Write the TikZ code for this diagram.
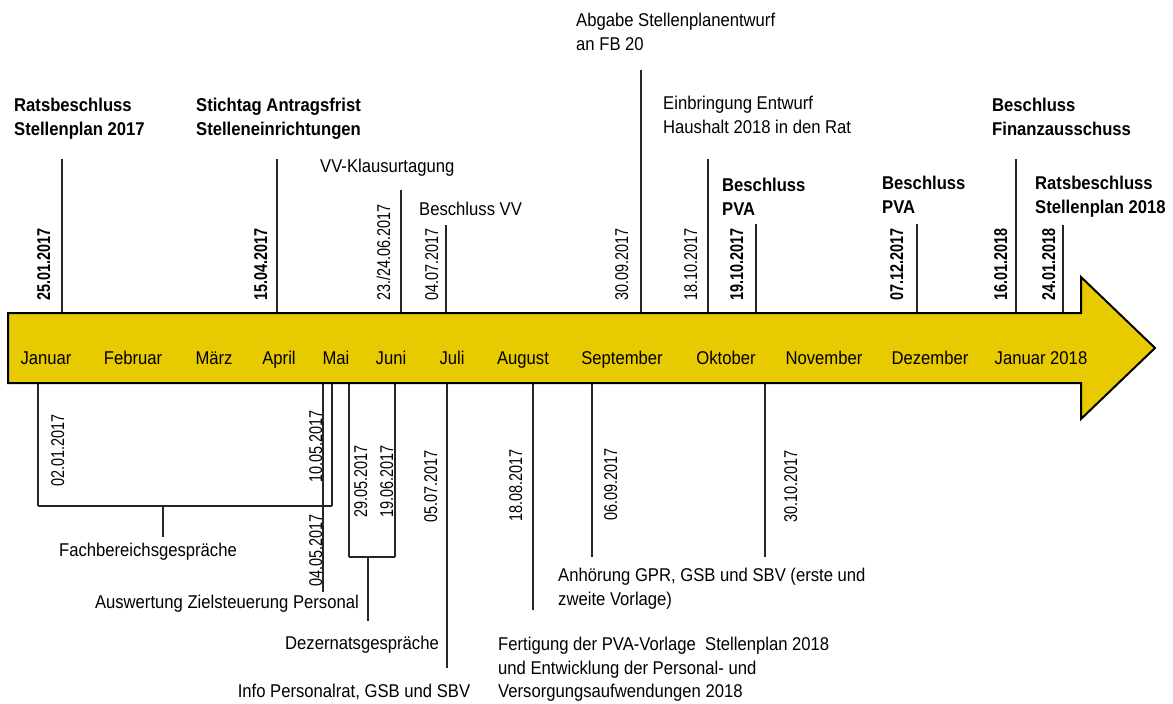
\documentclass[tikz,border=0pt]{standalone}
\usepackage{fontspec}
\setmainfont{Liberation Sans}[FakeStretch=0.9]
\newfontfamily\datefont{Liberation Sans}[FakeStretch=0.78]
\newcommand\fs{\fontsize{18.5}{23.5}\selectfont}
\definecolor{tlyellow}{RGB}{232,202,0}

\begin{document}
\begin{tikzpicture}
  [x=1pt,y=-1pt,every node/.style={inner sep=0pt,font=\fs},
   stick/.style={draw=black!85,line width=1.3pt},
   labl/.style={anchor=north west,align=left},
   labb/.style={labl,font=\fs\bfseries},
   datum/.style={rotate=90,anchor=base west,font=\datefont\fs},
   datumb/.style={datum,font=\datefont\fs\bfseries},
   monat/.style={anchor=base}]

  \useasboundingbox (0,0) rectangle (1173,704);

  \coordinate (bartop) at (0,313);
  \coordinate (barbot) at (0,383);

  % oben: Termine
  \node[labb] (T1)  at (14,98)   {Ratsbeschluss\\Stellenplan 2017};
  \node[labb] (T2)  at (196,98)  {Stichtag Antragsfrist\\Stelleneinrichtungen};
  \node[labl] (T3)  at (320,159) {VV-Klausurtagung};
  \node[labl] (T4)  at (419,202) {Beschluss VV};
  \node[labl] (T5)  at (576,13)  {Abgabe Stellenplanentwurf\\an FB 20};
  \node[labl] (T6)  at (663,96)  {Einbringung Entwurf\\Haushalt 2018 in den Rat};
  \node[labb] (T7)  at (722,178) {Beschluss\\PVA};
  \node[labb] (T8)  at (882,176) {Beschluss\\PVA};
  \node[labb] (T9)  at (992,98)  {Beschluss\\Finanzausschuss};
  \node[labb] (T10) at (1035,176) {Ratsbeschluss\\Stellenplan 2018};

  \node[datumb] (D1)  at (50,301)   {25.01.2017};
  \node[datumb] (D2)  at (267,301)  {15.04.2017};
  \node[datum]  (D3)  at (390,301)  {23./24.06.2017};
  \node[datum]  (D4)  at (438,301)  {04.07.2017};
  \node[datum]  (D5)  at (628,301)  {30.09.2017};
  \node[datum]  (D6)  at (697,301)  {18.10.2017};
  \node[datumb] (D7)  at (743,301)  {19.10.2017};
  \node[datumb] (D8)  at (903,301)  {07.12.2017};
  \node[datumb] (D9)  at (1007,301) {16.01.2018};
  \node[datumb] (D10) at (1055,301) {24.01.2018};

  \coordinate (u1)  at (62,159);
  \coordinate (u2)  at (277,159);
  \coordinate (u3)  at (401,190);
  \coordinate (u4)  at (446,225);
  \coordinate (u5)  at (641,70);
  \coordinate (u6)  at (708,159);
  \coordinate (u7)  at (756,224);
  \coordinate (u8)  at (917,224);
  \coordinate (u9)  at (1016,159);
  \coordinate (u10) at (1063,225);

  \foreach \c in {u1,u2,u3,u4,u5,u6,u7,u8,u9,u10}
    \draw[stick] (\c) -- (\c |- bartop);

  % unten: Zeitraeume
  \node[anchor=north]      (B1) at (148,543) {Fachbereichsgespräche};
  \node[anchor=north east] (B2) at (359,595) {Auswertung Zielsteuerung Personal};
  \node[anchor=north]      (B3) at (362,636) {Dezernatsgespräche};
  \node[anchor=north]      (B4) at (354,684) {Info Personalrat, GSB und SBV};
  \node[labl]              (B5) at (498,637)
    {Fertigung der PVA-Vorlage\ \ Stellenplan 2018\\und Entwicklung der Personal- und\\Versorgungsaufwendungen 2018};
  \node[labl]              (B6) at (558,568)
    {Anhörung GPR, GSB und SBV (erste und\\zweite Vorlage)};

  \node[datum] (d1) at (64,487)  {02.01.2017};
  \node[datum] (d2) at (322,483) {10.05.2017};
  \node[datum] (d3) at (322,587) {04.05.2017};
  \node[datum] (d4) at (367,518) {29.05.2017};
  \node[datum] (d5) at (393,518) {19.06.2017};
  \node[datum] (d6) at (437,523) {05.07.2017};
  \node[datum] (d7) at (522,522) {18.08.2017};
  \node[datum] (d8) at (617,521) {06.09.2017};
  \node[datum] (d9) at (797,523) {30.10.2017};

  \coordinate (v1) at (38,506);
  \coordinate (v2) at (332,506);
  \coordinate (v3) at (323,592);
  \coordinate (v4) at (349,557);
  \coordinate (v5) at (395,557);
  \coordinate (v6) at (447,668);
  \coordinate (v7) at (533,610);
  \coordinate (v8) at (592,557);
  \coordinate (v9) at (765,557);
  \coordinate (w1) at (163,506);
  \coordinate (w2) at (163,537);
  \coordinate (w3) at (368,557);
  \coordinate (w4) at (368,621);

  \foreach \c in {v1,v2,v3,v4,v5,v6,v7,v8,v9}
    \draw[stick] (\c) -- (\c |- barbot);
  \foreach \from/\to in {v1/v2,v4/v5,w1/w2,w3/w4}
    \draw[stick] (\from) -- (\to);

  % Zeitpfeil
  \draw[fill=tlyellow,draw=black,line width=2pt,line join=miter]
    (8,313) -- (1081,313) -- (1081,277) -- (1155,348) -- (1081,419)
    -- (1081,383) -- (8,383) -- cycle;

  \node[monat] (m1)  at (46,364)   {Januar};
  \node[monat] (m2)  at (133,364)  {Februar};
  \node[monat] (m3)  at (214,364)  {März};
  \node[monat] (m4)  at (279,364)  {April};
  \node[monat] (m5)  at (336,364)  {Mai};
  \node[monat] (m6)  at (391,364)  {Juni};
  \node[monat] (m7)  at (452,364)  {Juli};
  \node[monat] (m8)  at (523,364)  {August};
  \node[monat] (m9)  at (622,364)  {September};
  \node[monat] (m10) at (726,364)  {Oktober};
  \node[monat] (m11) at (824,364)  {November};
  \node[monat] (m12) at (930,364)  {Dezember};
  \node[monat] (m13) at (1041,364) {Januar 2018};

\end{tikzpicture}
\end{document}
